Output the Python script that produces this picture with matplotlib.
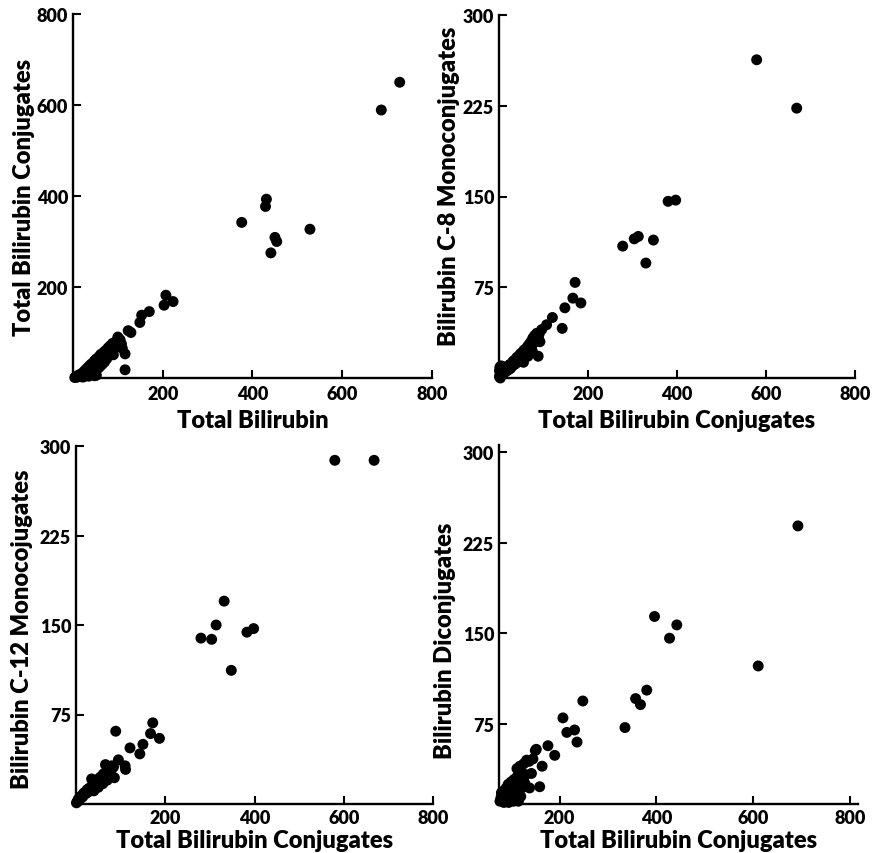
import matplotlib
matplotlib.use("Agg")
import matplotlib.pyplot as plt

# ---- Panel A: total bilirubin vs. total bilirubin conjugates ----
bili_total = [728, 687, 376, 431, 429, 528, 450, 454, 441, 207, 203, 223, 170, 153, 149, 129, 123, 101, 116, 116, 90,
              100, 105, 108, 110, 103, 95, 92, 88, 85, 82, 80, 78, 75, 72, 70, 68, 65, 62, 60, 58,
              55, 52, 50, 48, 46, 44, 42, 40, 38, 36, 34, 32, 30, 28, 26, 24, 22, 20, 18, 16,
              14, 12, 10, 8, 6, 4, 50, 52, 48, 60, 65, 70, 75, 40, 35, 30, 45, 55, 85, 90]
conj_a = [650, 589, 342, 393, 377, 327, 309, 300, 275, 182, 160, 168, 146, 138, 122, 100, 104, 86, 53, 18, 51,
          90, 84, 75, 65, 70, 80, 72, 76, 65, 70, 60, 66, 55, 60, 50, 56, 45, 52, 40, 47,
          35, 42, 30, 38, 25, 33, 20, 30, 15, 26, 10, 22, 6, 18, 4, 14, 2, 10, 3, 8,
          5, 6, 2, 4, 2, 1, 12, 6, 5, 25, 30, 35, 42, 8, 4, 14, 15, 20, 55, 62]

# ---- Panel B: total conjugates vs. C-8 monoconjugates ----
conj_b = [579, 669, 380, 397, 278, 304, 313, 347, 330, 171, 166, 184, 148, 120, 142, 107, 96, 88,
          2, 4, 6, 8, 10, 12, 14, 16, 18, 20, 22, 24, 26, 28, 30, 32, 34, 36, 38, 40,
          42, 44, 46, 48, 50, 52, 54, 56, 58, 60, 62, 64, 66, 68, 70, 72, 74, 76, 78, 80,
          82, 85, 88, 90, 65, 75, 55, 92, 1, 2, 5, 3, 1]
c8_mono = [263, 223, 146, 147, 109, 115, 117, 114, 95, 79, 66, 62, 58, 50, 41, 44, 40, 18,
           2, 5, 3, 6, 4, 7, 5, 8, 6, 10, 7, 11, 8, 12, 10, 14, 11, 15, 12, 17,
           14, 18, 15, 20, 17, 21, 18, 23, 20, 24, 21, 26, 23, 28, 25, 30, 27, 33, 29, 35,
           31, 37, 33, 36, 18, 22, 13, 30, 6, 9, 10, 0, 1]

# ---- Panel C: total conjugates vs. C-12 monoconjugates ----
conj_c = [580, 668, 332, 314, 280, 304, 383, 398, 348, 172, 167, 187, 150, 143, 121, 89, 95, 110, 111, 66,
          84, 86, 35,
          1, 3, 5, 7, 9, 11, 13, 15, 17, 19, 21, 23, 25, 27, 29, 31, 33, 35, 37, 39,
          41, 43, 45, 47, 49, 51, 53, 55, 57, 59, 61, 63, 65, 68, 70, 73, 76, 78, 80, 60,
          70, 50, 40]
c12_mono = [288, 288, 170, 150, 139, 138, 144, 147, 112, 68, 59, 55, 50, 42, 47, 61, 37, 32, 29, 33,
            31, 22, 21,
            1, 2, 4, 3, 6, 5, 7, 6, 9, 8, 10, 9, 12, 10, 13, 11, 14, 13, 16, 14,
            17, 15, 19, 16, 20, 18, 22, 19, 23, 21, 25, 22, 26, 24, 28, 25, 30, 27, 32, 17,
            20, 14, 11]

# ---- Panel D: total conjugates vs. diconjugates ----
conj_d = [692, 610, 396, 442, 427, 380, 357, 367, 335, 248, 207, 215, 231, 236, 176, 190, 152, 164, 137, 142,
          121, 138, 159, 145, 150,
          77, 79, 80, 82, 84, 86, 88, 90, 92, 94, 96, 98, 100, 102, 104, 106, 108, 110, 112, 114,
          116, 118, 120, 122, 125, 128, 85, 95, 105, 115, 130, 112, 118, 126, 132]
dicon = [239, 123, 164, 157, 146, 103, 96, 91, 72, 94, 80, 68, 70, 60, 57, 49, 54, 40, 44, 34,
         35, 22, 23, 46, 53,
         11, 14, 18, 12, 16, 20, 13, 22, 17, 25, 14, 20, 27, 16, 23, 29, 18, 25, 31, 12,
         20, 27, 15, 22, 30, 26, 10, 10, 11, 11, 33, 38, 40, 42, 45]

xticks_all = [200, 400, 600, 800]
yticks_a = [200, 400, 600, 800]
yticks_bcd = [75, 150, 225, 300]

FONT = "Lato"
WEIGHT = 800
W, H = 877, 854

fig = plt.figure(figsize=(W / 100, H / 100), dpi=100)


def px_axes(left, top, right, bottom):
    return fig.add_axes([left / W, (H - bottom) / H, (right - left) / W, (bottom - top) / H])


panels = [
    dict(box=(73, 15, 432, 379), x=bili_total, y=conj_a, xlim=(0, 800), ylim=(0, 800),
         yticks=yticks_a, xlabel="Total Bilirubin", ylabel="Total Bilirubin Conjugates",
         ylab_y=0.5, ylabpad=1, xlabpad=5, xpad=5),
    dict(box=(499, 16, 855, 379), x=conj_b, y=c8_mono, xlim=(0, 800), ylim=(0, 300),
         yticks=yticks_bcd, xlabel="Total Bilirubin Conjugates", ylabel="Bilirubin C-8 Monoconjugates",
         ylab_y=0.53, ylabpad=2, xlabpad=5, xpad=5),
    dict(box=(76, 447, 433, 805), x=conj_c, y=c12_mono, xlim=(0, 800), ylim=(0, 300),
         yticks=yticks_bcd, xlabel="Total Bilirubin Conjugates", ylabel="Bilirubin C-12 Monocojugates",
         ylab_y=0.49, ylabpad=5, xlabpad=2, xpad=3.5),
    dict(box=(499, 446, 858, 805), x=conj_d, y=dicon, xlim=(75, 816), ylim=(8.7, 306),
         yticks=yticks_bcd, xlabel="Total Bilirubin Conjugates", ylabel="Bilirubin Diconjugates",
         ylab_y=0.457, ylabpad=5, xlabpad=2, xpad=3.5),
]

for p in panels:
    ax = px_axes(*p["box"])
    ax.scatter(p["x"], p["y"], s=62, c="black", edgecolors="none", clip_on=False, zorder=3)
    ax.set_xlim(*p["xlim"])
    ax.set_ylim(*p["ylim"])
    ax.set_xticks(xticks_all)
    ax.set_yticks(p["yticks"])
    for side in ("top", "right"):
        ax.spines[side].set_visible(False)
    for side in ("left", "bottom"):
        ax.spines[side].set_linewidth(1.7)
    ax.tick_params(axis="both", direction="in", length=6, width=1.5, labelsize=13)
    ax.tick_params(axis="x", pad=p["xpad"])
    for lab in ax.get_xticklabels() + ax.get_yticklabels():
        lab.set_fontfamily(FONT)
        lab.set_fontweight(WEIGHT)
    ax.set_xlabel(p["xlabel"], fontsize=17, fontfamily=FONT, fontweight=WEIGHT, labelpad=p["xlabpad"])
    ax.set_ylabel(p["ylabel"], fontsize=17, fontfamily=FONT, fontweight=WEIGHT, labelpad=p["ylabpad"],
                  y=p["ylab_y"])

fig.savefig("out.png", dpi=100, facecolor="white")
